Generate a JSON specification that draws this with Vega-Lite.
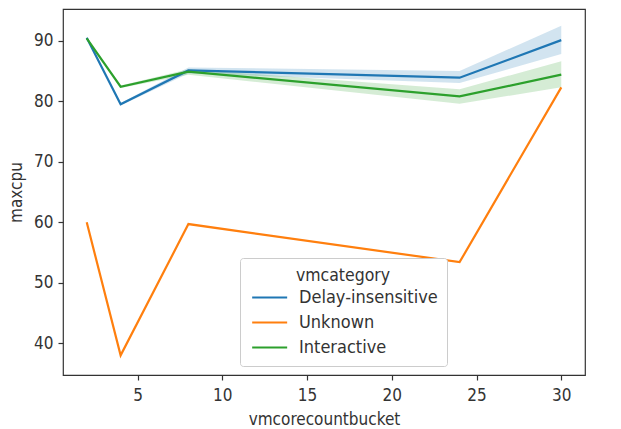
{
  "$schema": "https://vega.github.io/schema/vega-lite/v6.json",
  "width": 522,
  "height": 366,
  "autosize": {"type": "none"},
  "padding": {"left": 63, "top": 9, "right": 36, "bottom": 54},
  "background": "white",
  "config": {
    "font": "DejaVu Sans Condensed, DejaVu Sans",
    "view": {"stroke": "#333333", "strokeWidth": 1.2},
    "axis": {
      "grid": false,
      "domain": false,
      "tickColor": "#333333",
      "tickSize": 5,
      "tickWidth": 1.2,
      "labelFontSize": 17,
      "labelPadding": 5,
      "labelColor": "#333333",
      "titleFontSize": 17,
      "titleFontWeight": "normal",
      "titleColor": "#333333"
    }
  },
  "data": {
    "values": [
      {"vmcategory": "Delay-insensitive", "vmcorecountbucket": 2, "maxcpu": 90.5, "lo": 90.5, "hi": 90.5},
      {"vmcategory": "Delay-insensitive", "vmcorecountbucket": 4, "maxcpu": 79.5, "lo": 79.3, "hi": 79.7},
      {"vmcategory": "Delay-insensitive", "vmcorecountbucket": 8, "maxcpu": 85.1, "lo": 84.6, "hi": 85.6},
      {"vmcategory": "Delay-insensitive", "vmcorecountbucket": 24, "maxcpu": 83.9, "lo": 83.0, "hi": 85.0},
      {"vmcategory": "Delay-insensitive", "vmcorecountbucket": 30, "maxcpu": 90.1, "lo": 87.8, "hi": 92.5},
      {"vmcategory": "Unknown", "vmcorecountbucket": 2, "maxcpu": 60.0, "lo": 60.0, "hi": 60.0},
      {"vmcategory": "Unknown", "vmcorecountbucket": 4, "maxcpu": 38.0, "lo": 38.0, "hi": 38.0},
      {"vmcategory": "Unknown", "vmcorecountbucket": 8, "maxcpu": 59.7, "lo": 59.6, "hi": 59.8},
      {"vmcategory": "Unknown", "vmcorecountbucket": 24, "maxcpu": 53.4, "lo": 53.3, "hi": 53.5},
      {"vmcategory": "Unknown", "vmcorecountbucket": 30, "maxcpu": 82.3, "lo": 82.2, "hi": 82.4},
      {"vmcategory": "Interactive", "vmcorecountbucket": 2, "maxcpu": 90.4, "lo": 90.4, "hi": 90.4},
      {"vmcategory": "Interactive", "vmcorecountbucket": 4, "maxcpu": 82.4, "lo": 82.2, "hi": 82.6},
      {"vmcategory": "Interactive", "vmcorecountbucket": 8, "maxcpu": 84.9, "lo": 84.4, "hi": 85.3},
      {"vmcategory": "Interactive", "vmcorecountbucket": 24, "maxcpu": 80.8, "lo": 79.6, "hi": 82.0},
      {"vmcategory": "Interactive", "vmcorecountbucket": 30, "maxcpu": 84.4, "lo": 82.3, "hi": 86.6}
    ]
  },
  "encoding": {
    "x": {
      "field": "vmcorecountbucket",
      "type": "quantitative",
      "title": "vmcorecountbucket",
      "scale": {"domain": [0.6, 31.4], "nice": false, "zero": false},
      "axis": {"values": [5, 10, 15, 20, 25, 30], "labelPadding": 7, "titlePadding": 8}
    },
    "color": {
      "field": "vmcategory",
      "type": "nominal",
      "scale": {
        "domain": ["Delay-insensitive", "Unknown", "Interactive"],
        "range": ["#1f77b4", "#ff7f0e", "#2ca02c"]
      },
      "legend": {
        "orient": "none",
        "legendX": 177,
        "legendY": 249,
        "title": "vmcategory",
        "titleAnchor": "middle",
        "titleFontSize": 17.5,
        "titleFontWeight": "normal",
        "titleColor": "#333333",
        "titlePadding": 4,
        "labelFontSize": 18,
        "labelColor": "#333333",
        "symbolType": "M-1,0H5",
        "symbolSize": 136,
        "symbolStrokeWidth": 2.2,
        "symbolOpacity": 1,
        "labelOffset": 32,
        "rowPadding": 7,
        "padding": 9,
        "fillColor": "white",
        "strokeColor": "#cccccc",
        "cornerRadius": 3
      }
    }
  },
  "layer": [
    {
      "mark": {"type": "area", "opacity": 0.2},
      "encoding": {
        "y": {
          "field": "lo",
          "type": "quantitative",
          "title": "maxcpu",
          "scale": {"domain": [34.75, 95.25], "nice": false, "zero": false},
          "axis": {"values": [40, 50, 60, 70, 80, 90], "titlePadding": 8}
        },
        "y2": {"field": "hi"}
      }
    },
    {
      "mark": {"type": "line", "strokeWidth": 2.2},
      "encoding": {
        "y": {"field": "maxcpu", "type": "quantitative"}
      }
    }
  ]
}
